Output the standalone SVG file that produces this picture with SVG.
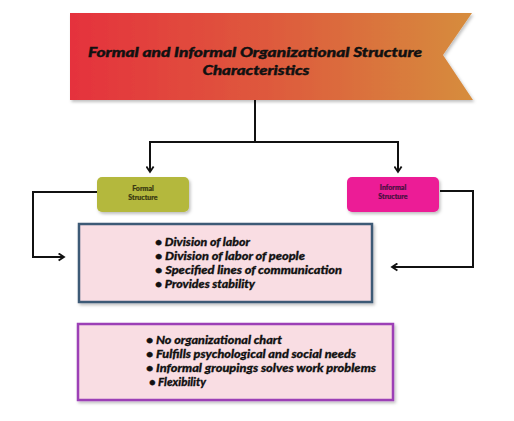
<svg xmlns="http://www.w3.org/2000/svg" width="514" height="421" viewBox="0 0 514 421">
<defs>
<linearGradient id="bannerGrad" x1="0" y1="0" x2="1" y2="0">
<stop offset="0" stop-color="#e5323d"/>
<stop offset="0.5" stop-color="#de5a3e"/>
<stop offset="1" stop-color="#d68d3e"/>
</linearGradient>
<filter id="shadow" x="-10%" y="-10%" width="125%" height="135%">
<feDropShadow dx="1.5" dy="2" stdDeviation="1.5" flood-color="#000" flood-opacity="0.25"/>
</filter>
<marker id="chev" viewBox="0 0 10 10" refX="8" refY="5" markerWidth="9" markerHeight="9" markerUnits="userSpaceOnUse" orient="auto">
<path d="M2,1 L8,5 L2,9" fill="none" stroke="#111" stroke-width="2"/>
</marker>
</defs>
<style>
.title{font-family:Lato,"Liberation Sans",Arial,sans-serif;font-weight:900;font-style:italic;font-size:14px;fill:#111;stroke:#111;stroke-width:0.4px;}
.small{font-family:Lato,"Liberation Sans",Arial,sans-serif;font-weight:900;font-size:7px;stroke-width:0.2px;}
.item{font-family:Lato,"Liberation Sans",Arial,sans-serif;font-weight:900;font-style:italic;font-size:12px;fill:#111;stroke:#111;stroke-width:0.3px;}
.conn{fill:none;stroke:#111;stroke-width:2;}
</style>
<rect width="514" height="421" fill="#ffffff"/>

<g id="connectors">
<polyline class="conn" points="255,100 255,142"/>
<polyline class="conn" points="150,142 398,142"/>
<polyline class="conn" points="150,141 150,172" marker-end="url(#chev)"/>
<polyline class="conn" points="398,141 398,172" marker-end="url(#chev)"/>
<polyline class="conn" points="97,192 33,192 33,257 64,257" marker-end="url(#chev)"/>
<polyline class="conn" points="440,191 473,191 473,267 392,267" marker-end="url(#chev)"/>
</g>

<g id="title">
<polygon points="70,13 472,13 443,55 473,100 70,100" fill="url(#bannerGrad)" filter="url(#shadow)"/>
<text class="title" x="255" y="57" text-anchor="middle" textLength="334" lengthAdjust="spacingAndGlyphs">Formal and Informal Organizational Structure</text>
<text class="title" x="256" y="75" text-anchor="middle" textLength="107" lengthAdjust="spacingAndGlyphs">Characteristics</text>
</g>

<g id="formal">
<rect x="97" y="177" width="92" height="35" rx="5" fill="#b4b83c" filter="url(#shadow)"/>
<text class="small" x="143" y="191" text-anchor="middle" fill="#3a3a12" stroke="#3a3a12">Formal</text>
<text class="small" x="143" y="200" text-anchor="middle" fill="#3a3a12" stroke="#3a3a12">Structure</text>
</g>

<g id="informal">
<rect x="347" y="177" width="92" height="35" rx="5" fill="#ec1e96" filter="url(#shadow)"/>
<text class="small" x="393" y="190" text-anchor="middle" fill="#4a1040" stroke="#4a1040">Informal</text>
<text class="small" x="393" y="199" text-anchor="middle" fill="#4a1040" stroke="#4a1040">Structure</text>
</g>

<g id="formal-list">
<rect x="79" y="224" width="293" height="78" fill="#f9dde3" stroke="#3d5a76" stroke-width="2.5" filter="url(#shadow)"/>
<text class="item" x="155" y="246" textLength="95" lengthAdjust="spacingAndGlyphs">• Division of labor</text>
<text class="item" x="155" y="260" textLength="150" lengthAdjust="spacingAndGlyphs">• Division of labor of people</text>
<text class="item" x="155" y="274" textLength="187" lengthAdjust="spacingAndGlyphs">• Specified lines of communication</text>
<text class="item" x="155" y="288" textLength="100" lengthAdjust="spacingAndGlyphs">• Provides stability</text>
</g>

<g id="informal-list">
<rect x="78" y="324" width="315" height="76" fill="#f9dde3" stroke="#9c3fb6" stroke-width="2.5" filter="url(#shadow)"/>
<text class="item" x="146" y="344" textLength="136" lengthAdjust="spacingAndGlyphs">• No organizational chart</text>
<text class="item" x="146" y="358" textLength="210" lengthAdjust="spacingAndGlyphs">• Fulfills psychological and social needs</text>
<text class="item" x="146" y="372" textLength="230" lengthAdjust="spacingAndGlyphs">• Informal groupings solves work problems</text>
<text class="item" x="149" y="386" textLength="57" lengthAdjust="spacingAndGlyphs">• Flexibility</text>
</g>
</svg>
